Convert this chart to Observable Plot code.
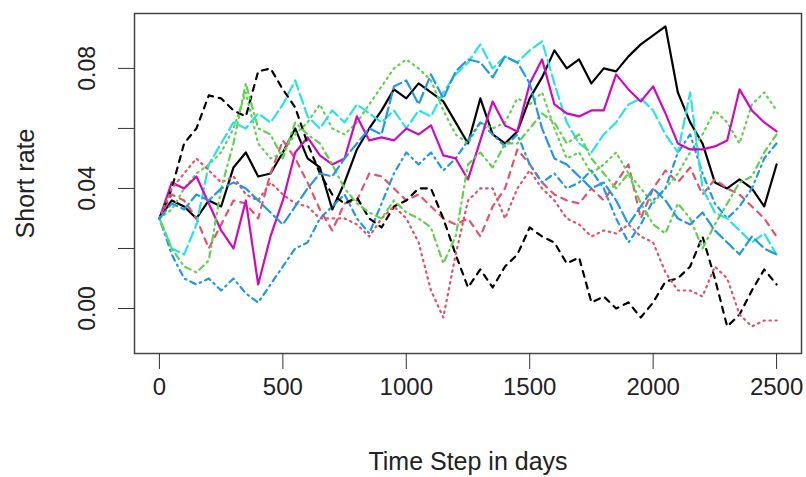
<!DOCTYPE html>
<html><head><meta charset="utf-8">
<script src="https://cdn.jsdelivr.net/npm/d3@7"></script>
<script src="https://cdn.jsdelivr.net/npm/@observablehq/plot@0.6"></script>
<style>body{margin:0;background:#fff} svg{display:block}</style>
</head><body><div id="chart"></div>
<script>
const days = [0,50,100,150,200,250,300,350,400,450,500,550,600,650,700,750,800,850,900,950,1000,1050,1100,1150,1200,1250,1300,1350,1400,1450,1500,1550,1600,1650,1700,1750,1800,1850,1900,1950,2000,2050,2100,2150,2200,2250,2300,2350,2400,2450,2500];

const blackSolid = [0.030,0.036,0.034,0.030,0.036,0.034,0.047,0.052,0.044,0.045, 0.052,0.060,0.050,0.047,0.033,0.042,0.053,0.060,0.066,0.073, 0.070,0.075,0.072,0.069,0.062,0.055,0.070,0.058,0.055,0.059, 0.070,0.077,0.086,0.080,0.083,0.075,0.080,0.079,0.084,0.088, 0.091,0.094,0.072,0.062,0.055,0.042,0.040,0.043,0.040,0.034, 0.048];
const redDashed = [0.030,0.038,0.036,0.030,0.020,0.028,0.036,0.035,0.030,0.045, 0.056,0.050,0.042,0.033,0.026,0.035,0.036,0.045,0.044,0.040, 0.036,0.038,0.034,0.030,0.028,0.030,0.024,0.034,0.040,0.053, 0.048,0.042,0.038,0.036,0.035,0.040,0.036,0.042,0.048,0.030, 0.040,0.046,0.042,0.047,0.038,0.043,0.040,0.038,0.034,0.030, 0.024];
const greenDotted = [0.030,0.033,0.040,0.045,0.048,0.052,0.060,0.072,0.055,0.050, 0.052,0.058,0.062,0.068,0.060,0.058,0.062,0.068,0.074,0.080, 0.083,0.080,0.076,0.066,0.058,0.055,0.062,0.060,0.062,0.070, 0.068,0.072,0.060,0.050,0.052,0.045,0.048,0.052,0.045,0.040, 0.035,0.040,0.045,0.052,0.058,0.066,0.062,0.055,0.068,0.072, 0.066];
const blueDotdash = [0.030,0.018,0.010,0.008,0.010,0.006,0.010,0.005,0.002,0.008, 0.014,0.020,0.022,0.030,0.034,0.038,0.030,0.025,0.035,0.045, 0.052,0.048,0.052,0.046,0.050,0.056,0.062,0.058,0.054,0.058, 0.048,0.042,0.045,0.040,0.042,0.046,0.040,0.030,0.022,0.028, 0.036,0.040,0.052,0.058,0.045,0.035,0.030,0.034,0.040,0.050, 0.055];
const cyanLongdash = [0.030,0.020,0.018,0.028,0.048,0.055,0.062,0.060,0.065,0.062, 0.068,0.076,0.064,0.060,0.066,0.062,0.068,0.065,0.062,0.066, 0.060,0.066,0.064,0.072,0.078,0.082,0.088,0.080,0.084,0.082, 0.086,0.089,0.075,0.062,0.055,0.052,0.058,0.062,0.068,0.070, 0.066,0.058,0.052,0.072,0.040,0.032,0.030,0.026,0.022,0.025, 0.018];
const magentaSolid = [0.030,0.042,0.040,0.044,0.035,0.026,0.020,0.036,0.008,0.024, 0.036,0.052,0.057,0.051,0.048,0.050,0.064,0.056,0.057,0.056, 0.060,0.058,0.061,0.051,0.050,0.043,0.056,0.069,0.061,0.059, 0.075,0.083,0.068,0.065,0.064,0.066,0.066,0.078,0.073,0.069, 0.074,0.065,0.055,0.053,0.053,0.054,0.056,0.073,0.066,0.062, 0.059];
const blackDashed = [0.030,0.040,0.055,0.060,0.071,0.070,0.066,0.064,0.079,0.080, 0.073,0.067,0.055,0.045,0.038,0.035,0.037,0.030,0.027,0.034, 0.036,0.040,0.040,0.030,0.018,0.007,0.013,0.007,0.014,0.018, 0.027,0.024,0.022,0.015,0.017,0.002,0.004,0.000,0.002,-0.003, 0.002,0.009,0.010,0.014,0.024,0.010,-0.006,-0.002,0.006,0.013, 0.008];
const redDotted = [0.030,0.040,0.045,0.050,0.046,0.042,0.044,0.038,0.036,0.042, 0.038,0.035,0.034,0.030,0.030,0.030,0.028,0.024,0.030,0.034, 0.030,0.022,0.006,-0.003,0.018,0.036,0.040,0.040,0.030,0.040, 0.046,0.040,0.036,0.030,0.028,0.024,0.026,0.025,0.028,0.024, 0.022,0.012,0.006,0.006,0.004,0.014,0.010,-0.002,-0.006,-0.004, -0.004];
const greenDotdash = [0.030,0.020,0.014,0.012,0.016,0.040,0.055,0.075,0.060,0.058, 0.050,0.062,0.058,0.055,0.048,0.040,0.035,0.032,0.030,0.036, 0.032,0.030,0.027,0.015,0.024,0.048,0.052,0.047,0.055,0.055, 0.060,0.065,0.062,0.055,0.058,0.050,0.045,0.040,0.045,0.035, 0.028,0.025,0.035,0.030,0.020,0.028,0.035,0.042,0.044,0.052, 0.058];
const blueLongdash = [0.030,0.035,0.033,0.038,0.036,0.040,0.042,0.040,0.036,0.032, 0.028,0.034,0.040,0.045,0.044,0.050,0.055,0.060,0.058,0.074, 0.076,0.068,0.078,0.070,0.079,0.083,0.082,0.077,0.084,0.082, 0.075,0.060,0.050,0.048,0.044,0.040,0.042,0.036,0.028,0.034, 0.040,0.036,0.030,0.028,0.032,0.026,0.022,0.018,0.024,0.020, 0.018];

const xTicks = [0,500,1000,1500,2000,2500];
const yTicks = [0,0.02,0.04,0.06,0.08];
const yLabelTicks = [0,0.04,0.08];
const xTitle = "Time Step in days";
const yTitle = "Short rate";

// R matplot: col 1:6 cycling, lty 1:5 cycling
const series = [
  {name:"s1", values:blackSolid,   color:"#000000", dash:null},
  {name:"s2", values:redDashed,    color:"#DF536B", dash:"6,6"},
  {name:"s3", values:greenDotted,  color:"#61D04F", dash:"1.5,4.5"},
  {name:"s4", values:blueDotdash,  color:"#2297E6", dash:"1.5,4.5,6,4.5"},
  {name:"s5", values:cyanLongdash, color:"#28E2E5", dash:"10.5,4.5"},
  {name:"s6", values:magentaSolid, color:"#CD0BBC", dash:null},
  {name:"s7", values:blackDashed,  color:"#000000", dash:"6,6"},
  {name:"s8", values:redDotted,    color:"#DF536B", dash:"1.5,4.5"},
  {name:"s9", values:greenDotdash, color:"#61D04F", dash:"1.5,4.5,6,4.5"},
  {name:"s10",values:blueLongdash, color:"#2297E6", dash:"10.5,4.5"}
];

const lineMarks = series.map(s => {
  const rows = s.values.map((v, j) => ({day: days[j], rate: v}));
  return Plot.lineY(rows, {x:"day", y:"rate", stroke:s.color, strokeWidth:2.2, strokeDasharray:s.dash || undefined});
});

const chart = Plot.plot({
  width:806, height:477,
  marginLeft:134, marginRight:5, marginTop:13, marginBottom:124,
  x:{domain:[-101,2601]},
  y:{domain:[-0.015,0.0983]},
  style:{fontFamily:"'Liberation Sans', Arial, sans-serif", color:"#222", background:"#fff"},
  marks:[
    ...lineMarks,
    Plot.frame({stroke:"#444", strokeWidth:1.5}),
    Plot.axisX({ticks:xTicks, tickSize:16, tickPadding:8, tickFormat:d3.format("d"), fontSize:24, label:null, stroke:"#333"}),
    Plot.axisY({ticks:yTicks, tickSize:16, tickFormat:() => "", label:null, stroke:"#333"}),
    Plot.text(yLabelTicks, {y:d => d, text:d => d3.format(".2f")(d), frameAnchor:"left", textAnchor:"middle", dx:-47, rotate:-90, fontSize:23, fill:"#222"}),
    Plot.text([xTitle], {frameAnchor:"bottom", textAnchor:"middle", dy:116, fontSize:25, fill:"#222"}),
    Plot.text([yTitle], {frameAnchor:"left", textAnchor:"middle", dx:-109, rotate:-90, fontSize:25, fill:"#222"})
  ]
});
document.getElementById("chart").appendChild(chart);
</script>
</body></html>
